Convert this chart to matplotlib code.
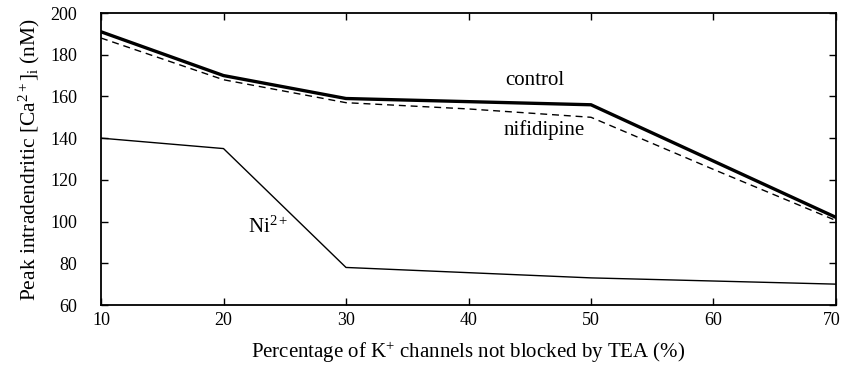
import matplotlib
matplotlib.use("Agg")
import matplotlib.pyplot as plt
import matplotlib.transforms as mtransforms

x = [10, 20, 30, 40, 50, 60, 70]
control = [191, 170, 159, 157.5, 156, 129, 102]
nifidipine = [188, 168, 157, 154, 150, 125, 100.5]
nickel = [140, 135, 78, 75.5, 73, 71.5, 70]

plt.rcParams['font.family'] = ['Liberation Serif', 'DejaVu Serif']
plt.rcParams['mathtext.fontset'] = 'custom'
plt.rcParams['mathtext.rm'] = 'Liberation Serif'
plt.rcParams['mathtext.it'] = 'Liberation Serif:italic'
plt.rcParams['mathtext.bf'] = 'Liberation Serif:bold'

fig = plt.figure(figsize=(8.43, 3.65), dpi=100)
ax = fig.add_axes([101/843, 60/365, 735/843, 292/365])

ax.plot(x, control, color='black', lw=2.4, solid_joinstyle='round')
ax.plot(x, nifidipine, color='black', lw=1.0, dashes=(5, 3.5))
ax.plot(x, nickel, color='black', lw=1.0)

ax.set_xlim(10, 70)
ax.set_ylim(60, 200)
ax.set_xticks(range(10, 71, 10))
ax.set_yticks(range(60, 201, 20))
ax.tick_params(direction='in', top=True, right=True, length=5, width=1,
               labelsize=13, colors='black')
ax.tick_params(axis='y', pad=17)
ax.tick_params(axis='x', pad=5)
for s in ax.spines.values():
    s.set_linewidth(1.3)

fig.canvas.draw()
last = ax.get_xticklabels()[-1]
last.set_transform(last.get_transform() +
                   mtransforms.ScaledTranslation(-4/100, 0, fig.dpi_scale_trans))

ax.text(45.4, 167.5, 'control', fontsize=15, ha='center', va='center')
ax.text(46.2, 144, 'nifidipine', fontsize=15, ha='center', va='center')
ax.text(23.6, 97.5, 'Ni$^{\\mathrm{2+}}$', fontsize=15, ha='center', va='center')

ax.set_xlabel('Percentage of K$^{\\mathrm{+}}$ channels not blocked by TEA (%)', fontsize=15, labelpad=8)
ax.set_ylabel('Peak intradendritic [Ca$^{\\mathrm{2+}}$]$_{\\mathrm{i}}$ (nM)', fontsize=15.5, labelpad=6)

fig.savefig('out.png', dpi=100)
